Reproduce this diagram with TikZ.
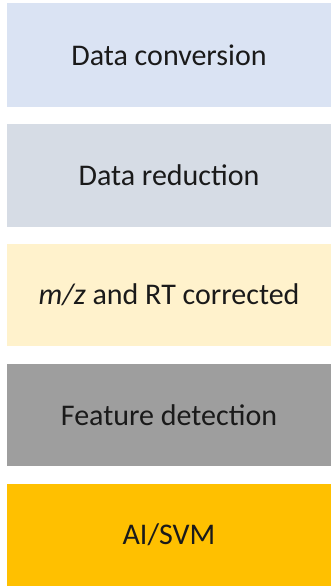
\documentclass[tikz,border=0pt]{standalone}
\usepackage{fontspec}
\setmainfont{Carlito}
\definecolor{cA}{HTML}{DAE3F3}
\definecolor{cB}{HTML}{D6DCE5}
\definecolor{cC}{HTML}{FFF2CC}
\definecolor{cD}{HTML}{9E9E9E}
\definecolor{cE}{HTML}{FFC000}
\definecolor{txt}{HTML}{1A1A1A}
\begin{document}
\begin{tikzpicture}[x=1pt,y=-1pt,
  stepbox/.style={anchor=north west,inner sep=0pt,outer sep=0pt,
    minimum width=324pt,minimum height=103pt,text=txt,
    font=\fontsize{30}{34}\selectfont}]
\useasboundingbox (0,0) rectangle (331,586);
\node[stepbox,fill=cA,minimum height=104pt] (b1) at (7,3) {Data conversion};
\node[stepbox,fill=cB] (b2) at (7,124) {Data reduction};
\node[stepbox,fill=cC,minimum height=102pt] (b3) at (7,244) {\textit{m/z} and RT corrected};
\node[stepbox,fill=cD,minimum height=102pt] (b4) at (7,364) {Feature detection};
\node[stepbox,fill=cE,minimum height=102pt] (b5) at (7,484) {AI/SVM};
\end{tikzpicture}
\end{document}
